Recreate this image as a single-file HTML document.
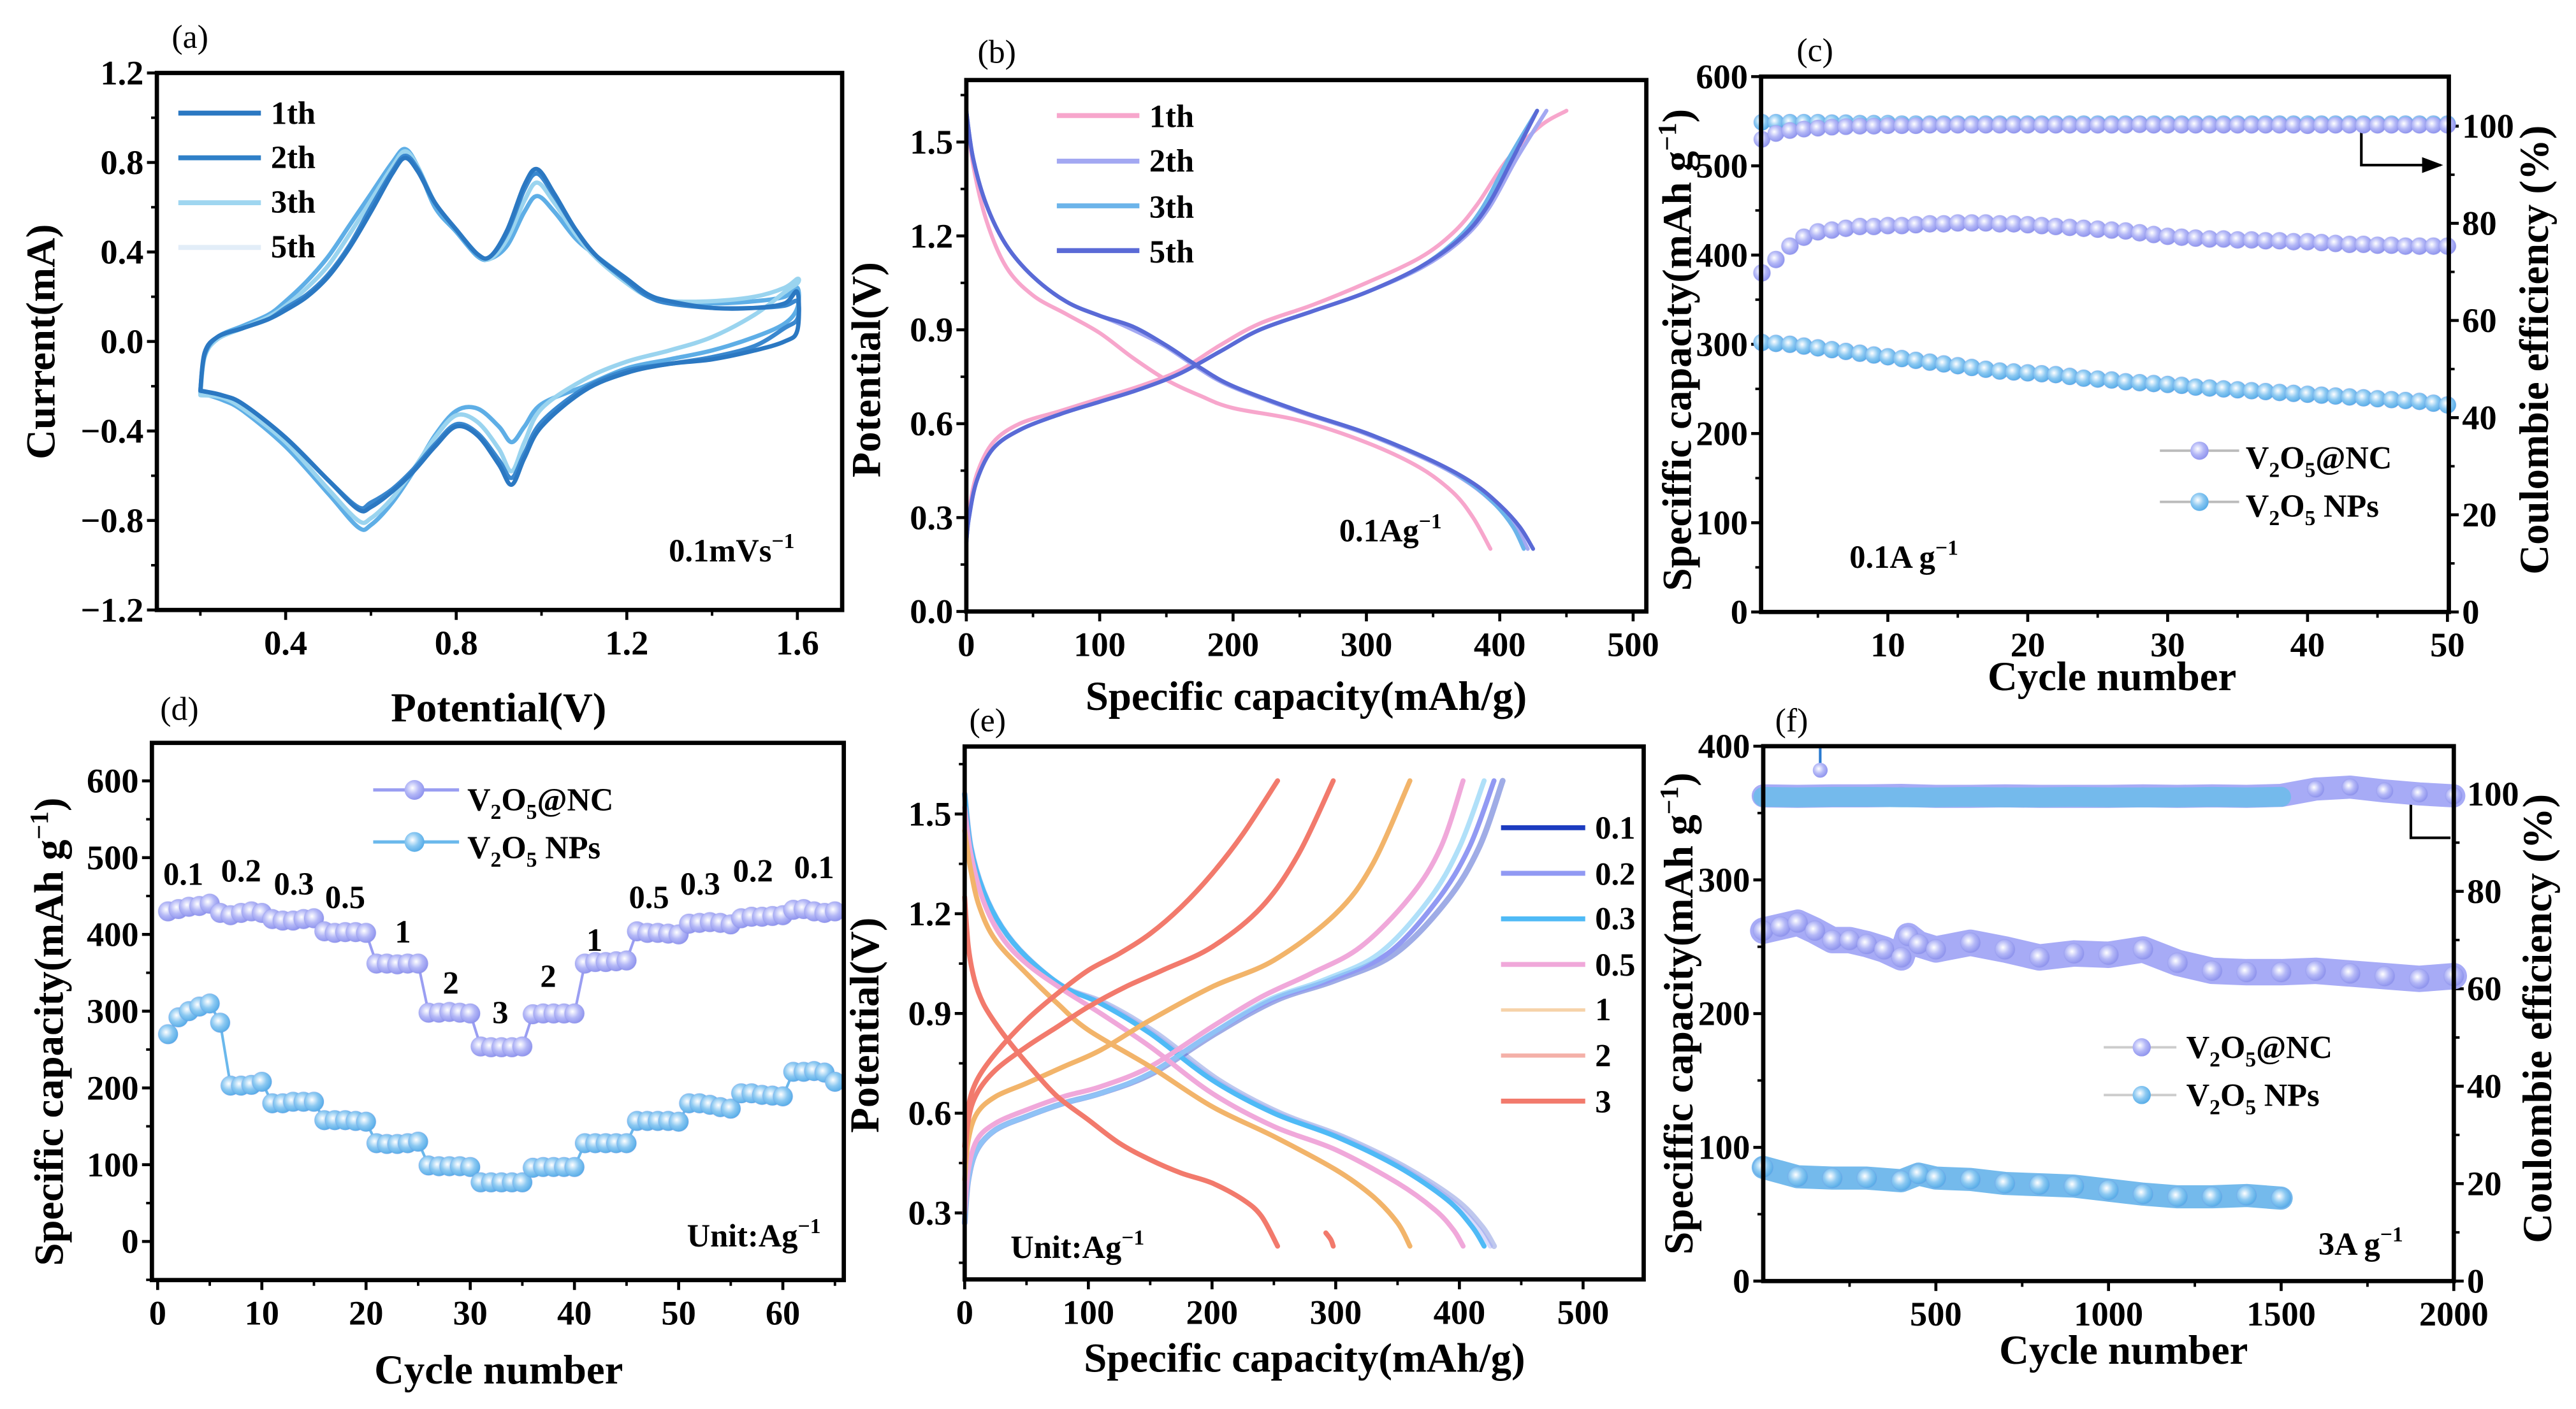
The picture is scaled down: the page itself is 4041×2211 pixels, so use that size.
<!DOCTYPE html>
<html><head><meta charset="utf-8"><style>
html,body{margin:0;padding:0;background:#fff;}
svg{display:block;}
text{font-family:"Liberation Serif",serif;}
.t{font-weight:bold;font-size:21px;}
.at{font-weight:bold;font-size:25px;}
.pl{font-size:20px;}
.lg{font-weight:bold;font-size:19.5px;}
</style></head><body>
<svg id="fig" xmlns="http://www.w3.org/2000/svg" width="4041" height="2211" viewBox="0 0 1560 853.5" preserveAspectRatio="none">
<defs>
<radialGradient id="gNC" cx="40%" cy="40%" r="60%"><stop offset="0" stop-color="#ffffff"/><stop offset="0.55" stop-color="#b4b8f7"/><stop offset="1" stop-color="#9196ee"/></radialGradient>
<radialGradient id="gNP" cx="40%" cy="40%" r="60%"><stop offset="0" stop-color="#ffffff"/><stop offset="0.55" stop-color="#8cc9f2"/><stop offset="1" stop-color="#5aaee8"/></radialGradient>
<marker id="arr" markerWidth="8" markerHeight="6" refX="7" refY="3" orient="auto"><path d="M0,0 L8,3 L0,6 z" fill="#000"/></marker>
</defs>
<rect x="0" y="0" width="1560" height="853.5" fill="#fff"/>

<text class="pl" x="104" y="29">(a)</text>
<text class="pl" x="592" y="38">(b)</text>
<text class="pl" x="1088" y="37">(c)</text>
<text class="pl" x="97" y="436">(d)</text>
<text class="pl" x="587" y="443">(e)</text>
<text class="pl" x="1075" y="443">(f)</text>

<text class="at" text-anchor="middle" transform="translate(33,207) rotate(-90)">Current(mA)</text>
<text class="at" text-anchor="middle" x="302" y="437">Potential(V)</text>
<text class="at" text-anchor="middle" transform="translate(533,224) rotate(-90)">Potential(V)</text>
<text class="at" text-anchor="middle" x="791" y="430">Specific capacity(mAh/g)</text>
<text class="at" text-anchor="middle" transform="translate(1024,212) rotate(-90)">Speciffic capacity(mAh g<tspan font-size="16" dy="-9">−1</tspan><tspan dy="9">)</tspan></text>
<text class="at" text-anchor="middle" transform="translate(1543,212) rotate(-90)">Coulombie efficiency (%)</text>
<text class="at" text-anchor="middle" x="1279" y="418">Cycle number</text>
<text class="at" text-anchor="middle" transform="translate(38,625) rotate(-90)">Specific capacity(mAh g<tspan font-size="16" dy="-9">−1</tspan><tspan dy="9">)</tspan></text>
<text class="at" text-anchor="middle" x="302" y="838">Cycle number</text>
<text class="at" text-anchor="middle" transform="translate(532,621) rotate(-90)">Potential(V)</text>
<text class="at" text-anchor="middle" x="790" y="831">Specific capacity(mAh/g)</text>
<text class="at" text-anchor="middle" transform="translate(1025,614) rotate(-90)">Speciffic capacity(mAh g<tspan font-size="16" dy="-9">−1</tspan><tspan dy="9">)</tspan></text>
<text class="at" text-anchor="middle" transform="translate(1545,617) rotate(-90)">Coulombie efficiency (%)</text>
<text class="at" text-anchor="middle" x="1286" y="826">Cycle number</text>

<text class="lg" x="405" y="340">0.1mVs<tspan font-size="13" dy="-8">−1</tspan></text>
<text class="lg" x="811" y="328">0.1Ag<tspan font-size="13" dy="-8">−1</tspan></text>
<text class="lg" x="1120" y="344">0.1A g<tspan font-size="13" dy="-8">−1</tspan></text>
<text class="lg" x="416" y="755">Unit:Ag<tspan font-size="13" dy="-8">−1</tspan></text>
<text class="lg" x="612" y="762">Unit:Ag<tspan font-size="13" dy="-8">−1</tspan></text>
<text class="lg" x="1404" y="760">3A g<tspan font-size="13" dy="-8">−1</tspan></text>

<g>
<line x1="108" y1="68.5" x2="158" y2="68.5" stroke="#2b78c2" stroke-width="3"/>
<text class="lg" x="164" y="75">1th</text>
<line x1="108" y1="95.6" x2="158" y2="95.6" stroke="#2f80c8" stroke-width="3"/>
<text class="lg" x="164" y="102">2th</text>
<line x1="108" y1="122.8" x2="158" y2="122.8" stroke="#9fd6f0" stroke-width="3"/>
<text class="lg" x="164" y="129">3th</text>
<line x1="108" y1="149.9" x2="158" y2="149.9" stroke="#e2edf8" stroke-width="3"/>
<text class="lg" x="164" y="156">5th</text>
</g>
<g>
<line x1="640" y1="70" x2="690" y2="70" stroke="#f7a6cc" stroke-width="3"/>
<text class="lg" x="696" y="77">1th</text>
<line x1="640" y1="97.6" x2="690" y2="97.6" stroke="#a3a8f2" stroke-width="3"/>
<text class="lg" x="696" y="104">2th</text>
<line x1="640" y1="124.7" x2="690" y2="124.7" stroke="#6cb4ea" stroke-width="3"/>
<text class="lg" x="696" y="132">3th</text>
<line x1="640" y1="151.8" x2="690" y2="151.8" stroke="#5a6ad6" stroke-width="3"/>
<text class="lg" x="696" y="159">5th</text>
</g>
<g>
<line x1="1308" y1="273" x2="1356" y2="273" stroke="#bbb" stroke-width="1.5"/>
<circle cx="1332" cy="273" r="5.5" fill="url(#gNC)"/>
<text class="lg" x="1360" y="284">V<tspan font-size="13" dy="5">2</tspan><tspan dy="-5">O</tspan><tspan font-size="13" dy="5">5</tspan><tspan dy="-5">@NC</tspan></text>
<line x1="1308" y1="304" x2="1356" y2="304" stroke="#bbb" stroke-width="1.5"/>
<circle cx="1332" cy="304" r="5.5" fill="url(#gNP)"/>
<text class="lg" x="1360" y="313">V<tspan font-size="13" dy="5">2</tspan><tspan dy="-5">O</tspan><tspan font-size="13" dy="5">5</tspan><tspan dy="-5"> NPs</tspan></text>
</g>
<g>
<line x1="226" y1="478.5" x2="278" y2="478.5" stroke="#9a9ef2" stroke-width="2"/>
<circle cx="251" cy="478.5" r="6" fill="url(#gNC)"/>
<text class="lg" x="283" y="491">V<tspan font-size="13" dy="5">2</tspan><tspan dy="-5">O</tspan><tspan font-size="13" dy="5">5</tspan><tspan dy="-5">@NC</tspan></text>
<line x1="226" y1="510" x2="278" y2="510" stroke="#6ab8ec" stroke-width="2"/>
<circle cx="251" cy="510" r="6" fill="url(#gNP)"/>
<text class="lg" x="283" y="520">V<tspan font-size="13" dy="5">2</tspan><tspan dy="-5">O</tspan><tspan font-size="13" dy="5">5</tspan><tspan dy="-5"> NPs</tspan></text>
</g>
<g>
<line x1="1274" y1="634.4" x2="1318" y2="634.4" stroke="#ccc" stroke-width="1.5"/>
<circle cx="1297" cy="634.4" r="5.5" fill="url(#gNC)"/>
<text class="lg" x="1324" y="641">V<tspan font-size="13" dy="5">2</tspan><tspan dy="-5">O</tspan><tspan font-size="13" dy="5">5</tspan><tspan dy="-5">@NC</tspan></text>
<line x1="1274" y1="663.3" x2="1318" y2="663.3" stroke="#ccc" stroke-width="1.5"/>
<circle cx="1297" cy="663.3" r="5.5" fill="url(#gNP)"/>
<text class="lg" x="1324" y="670">V<tspan font-size="13" dy="5">2</tspan><tspan dy="-5">O</tspan><tspan font-size="13" dy="5">5</tspan><tspan dy="-5"> NPs</tspan></text>
</g>
<g>
<line x1="909" y1="501.4" x2="960" y2="501.4" stroke="#1c3cc0" stroke-width="3"/>
<text class="lg" x="966" y="508">0.1</text>
<line x1="909" y1="529" x2="960" y2="529" stroke="#9199f3" stroke-width="3"/>
<text class="lg" x="966" y="536">0.2</text>
<line x1="909" y1="556.6" x2="960" y2="556.6" stroke="#4fbaf6" stroke-width="3"/>
<text class="lg" x="966" y="563">0.3</text>
<line x1="909" y1="584.2" x2="960" y2="584.2" stroke="#f0a8da" stroke-width="3"/>
<text class="lg" x="966" y="591">0.5</text>
<line x1="909" y1="611.8" x2="960" y2="611.8" stroke="#f6d2a8" stroke-width="2"/>
<text class="lg" x="966" y="618">1</text>
<line x1="909" y1="639.4" x2="960" y2="639.4" stroke="#f4b0a8" stroke-width="2.5"/>
<text class="lg" x="966" y="646">2</text>
<line x1="909" y1="667" x2="960" y2="667" stroke="#f27a6c" stroke-width="3"/>
<text class="lg" x="966" y="674">3</text>
</g>
<polyline points="1430,79 1430,100 1478,100" fill="none" stroke="#000" stroke-width="1.6" marker-end="url(#arr)"/>
<polyline points="1460,486 1460,507.5 1484,507.5" fill="none" stroke="#000" stroke-width="1.6"/>
</svg>
<script>
const cvV=[0.2,0.21,0.24,0.3,0.36,0.4,0.45,0.5,0.55,0.6,0.65,0.68,0.71,0.75,0.8,0.85,0.88,0.92,0.96,0.99,1.03,1.08,1.13,1.2,1.25,1.3,1.4,1.5,1.57,1.6,1.6,1.57,1.5,1.4,1.3,1.2,1.1,1.0,0.96,0.93,0.9,0.85,0.8,0.75,0.7,0.65,0.6,0.57,0.5,0.4,0.3,0.25,0.2];
const cvI1=[-0.22,-0.05,0.02,0.06,0.1,0.14,0.2,0.29,0.42,0.58,0.75,0.82,0.76,0.62,0.5,0.39,0.38,0.5,0.7,0.77,0.66,0.5,0.38,0.28,0.21,0.18,0.15,0.15,0.17,0.22,0.05,0.0,-0.04,-0.08,-0.1,-0.14,-0.22,-0.38,-0.52,-0.64,-0.55,-0.42,-0.38,-0.47,-0.58,-0.67,-0.74,-0.75,-0.62,-0.43,-0.28,-0.24,-0.22];
const cvI2=[-0.22,-0.06,0.02,0.06,0.1,0.15,0.21,0.3,0.43,0.6,0.76,0.83,0.77,0.62,0.5,0.39,0.38,0.49,0.68,0.75,0.65,0.5,0.38,0.27,0.2,0.17,0.15,0.15,0.16,0.18,0.1,0.06,-0.02,-0.07,-0.1,-0.13,-0.21,-0.36,-0.5,-0.61,-0.53,-0.41,-0.37,-0.46,-0.57,-0.66,-0.72,-0.74,-0.62,-0.43,-0.28,-0.24,-0.22];
const cvI3=[-0.24,-0.07,0.01,0.06,0.11,0.16,0.24,0.34,0.48,0.63,0.78,0.85,0.78,0.62,0.5,0.39,0.37,0.46,0.63,0.71,0.62,0.48,0.37,0.26,0.2,0.18,0.18,0.2,0.24,0.28,0.26,0.22,0.12,0.02,-0.04,-0.09,-0.17,-0.3,-0.45,-0.58,-0.48,-0.36,-0.33,-0.43,-0.57,-0.7,-0.79,-0.8,-0.66,-0.45,-0.3,-0.25,-0.24];
const cvI5=[-0.23,-0.06,0.02,0.07,0.12,0.18,0.27,0.38,0.52,0.66,0.8,0.86,0.78,0.6,0.49,0.38,0.37,0.43,0.58,0.65,0.58,0.46,0.38,0.28,0.21,0.18,0.17,0.18,0.2,0.24,0.15,0.08,0.02,-0.04,-0.08,-0.12,-0.2,-0.28,-0.38,-0.45,-0.38,-0.3,-0.31,-0.42,-0.58,-0.72,-0.82,-0.83,-0.68,-0.47,-0.31,-0.26,-0.23];
const bDisV=[1.6,1.45,1.3,1.17,1.07,0.99,0.945,0.91,0.85,0.78,0.72,0.64,0.57,0.48,0.41,0.34,0.27,0.2];
const bDis5=[0,5,15,30,50,75,100,125,150,175,200,250,300,350,380,400,415,425];
const bDis3=[0,5,15,30,50,75,100,125,150,175,200,250,300,350,378,397,410,418];
const bDis2=[0,5,15,30,50,75,100,120,148,173,198,248,298,348,377,397,412,421];
const bDis1V=[1.6,1.43,1.25,1.1,1.01,0.95,0.89,0.81,0.74,0.69,0.65,0.61,0.54,0.46,0.38,0.3,0.2];
const bDis1=[0,5,15,30,50,75,100,125,150,175,200,250,300,340,365,380,393];
const bChV=[0.22,0.3,0.42,0.52,0.58,0.63,0.67,0.71,0.76,0.83,0.9,0.96,1.02,1.1,1.19,1.29,1.45,1.6];
const bCh5=[0,2,8,20,40,70,100,130,160,190,220,260,300,340,370,390,410,428];
const bCh3=[0,2,8,20,40,70,100,130,160,190,220,260,300,340,368,387,407,428];
const bCh2=[0,2,8,20,40,70,100,130,160,190,220,260,300,342,372,392,413,435];
const bCh1V=[0.22,0.32,0.44,0.54,0.6,0.64,0.68,0.72,0.77,0.85,0.92,0.98,1.05,1.13,1.21,1.3,1.44,1.55,1.6];
const bCh1=[0,2,8,20,40,70,100,130,160,190,220,260,300,340,365,383,405,430,450];
const cCycles=[1,2,3,4,5,6,7,8,9,10,11,12,13,14,15,16,17,18,19,20,21,22,23,24,25,26,27,28,29,30,31,32,33,34,35,36,37,38,39,40,41,42,43,44,45,46,47,48,49,50];
const cNC=[380,395,410,420,426,428,430,432,432,433,433,434,435,435,436,436,436,435,435,434,433,432,431,430,429,428,427,425,423,421,420,419,418,418,417,417,416,416,415,415,414,413,412,412,411,411,410,410,410,410];
const cNP=[302,301,300,298,296,294,292,290,288,286,284,282,280,278,276,274,272,270,269,268,267,266,264,262,261,260,258,257,256,255,254,252,251,250,249,248,247,246,245,244,243,242,241,240,239,238,237,236,234,232];
const cNCce=[97.3,98.5,99.1,99.4,99.6,99.8,99.9,100,100,100.1,100.1,100.1,100.2,100.2,100.2,100.2,100.2,100.2,100.2,100.2,100.2,100.2,100.2,100.2,100.2,100.2,100.2,100.3,100.2,100.2,100.2,100.2,100.2,100.2,100.2,100.2,100.2,100.2,100.2,100.1,100.2,100.2,100.2,100.2,100.2,100.2,100.2,100.2,100.2,100.2];
const cNPce=[100.8,100.8,100.8,100.8,100.8,100.7,100.7,100.6,100.6,100.6,100.5,100.5,100.5,100.5,100.5,100.5,100.5,100.5,100.5,100.5,100.5,100.5,100.5,100.5,100.5,100.5,100.5,100.5,100.5,100.5,100.5,100.5,100.5,100.5,100.5,100.5,100.5,100.5,100.5,100.5,100.5,100.5,100.5,100.5,100.5,100.5,100.5,100.5,100.5,100.5];
const dNC=[430,433,436,437,440,428,425,428,430,428,420,418,418,420,421,404,402,403,403,402,362,362,361,362,362,298,298,299,298,297,254,253,253,253,254,296,297,297,297,297,362,364,364,365,366,404,402,402,401,400,414,415,416,415,413,421,423,423,424,425,432,433,430,428,430];
const dNP=[270,292,300,306,310,285,203,203,204,208,180,180,182,182,182,158,158,158,157,156,128,127,127,128,130,99,98,98,98,97,77,77,77,77,77,96,97,97,97,97,128,128,128,128,128,157,157,157,157,156,180,180,178,175,173,193,193,191,190,189,221,221,222,220,208];
const dRates=["0.1","0.2","0.3","0.5","1","2","3","2","1","0.5","0.3","0.2","0.1"];
const eDis3C=[0,3,8,15,25,37,55,75,100,125,150,175,200,225,240,253], eDis3V=[1.25,1.1,1.0,0.93,0.87,0.81,0.73,0.65,0.58,0.51,0.46,0.42,0.39,0.34,0.29,0.2];
const eDis2C=[292,296,298], eDis2V=[0.24,0.22,0.2];
const eDis1C=[0,5,12,25,50,75,100,150,200,250,300,330,350,360], eDis1V=[1.45,1.33,1.22,1.12,1.02,0.93,0.85,0.74,0.62,0.53,0.43,0.35,0.27,0.2];
const eDis05C=[0,5,15,30,50,80,110,150,200,250,300,350,380,395,403], eDis05V=[1.52,1.38,1.24,1.13,1.05,0.97,0.9,0.8,0.66,0.56,0.49,0.39,0.31,0.25,0.2];
const eDisV=[1.56,1.4,1.27,1.16,1.07,0.98,0.93,0.84,0.7,0.6,0.53,0.44,0.34,0.26,0.2];
const eDis03C=[0,5,15,30,50,80,110,150,200,250,300,350,390,410,420];
const eDis02C=[0,5,15,30,50,80,112,152,202,252,302,352,393,414,425];
const eDis01C=[0,5,15,30,50,80,114,155,205,255,305,355,397,418,428];
const eCh3C=[0,3,10,25,50,75,100,125,150,175,200,225,253], eCh3V=[0.5,0.62,0.7,0.78,0.88,0.96,1.03,1.08,1.14,1.22,1.32,1.44,1.6];
const eCh2C=[0,3,10,25,50,75,100,130,160,200,240,270,298], eCh2V=[0.45,0.58,0.66,0.73,0.8,0.86,0.92,0.98,1.03,1.1,1.22,1.38,1.6];
const eCh1C=[0,3,10,25,50,80,110,150,200,250,300,330,360], eCh1V=[0.4,0.52,0.6,0.65,0.69,0.74,0.79,0.88,0.98,1.06,1.2,1.35,1.6];
const eCh05C=[0,3,10,25,50,80,110,150,200,240,280,320,360,385,403], eCh05V=[0.3,0.43,0.52,0.57,0.61,0.65,0.68,0.74,0.86,0.95,1.02,1.1,1.25,1.4,1.6];
const eChV=[0.27,0.4,0.49,0.55,0.59,0.63,0.66,0.72,0.84,0.94,1.0,1.08,1.24,1.4,1.6];
const eCh03C=[0,3,10,25,50,80,110,150,200,245,290,335,375,400,420];
const eCh02C=[0,3,10,25,50,80,110,150,200,248,295,342,382,408,428];
const eCh01C=[0,3,10,25,50,80,110,152,203,252,300,348,390,416,435];
const fNCc=[0,50,100,150,200,250,300,350,400,420,450,500,600,700,800,900,1000,1100,1200,1300,1400,1500,1600,1700,1800,1900,2000];
const fNC=[262,265,268,262,255,255,252,248,242,258,252,248,253,248,242,245,244,248,238,232,231,231,232,230,228,226,228];
const fNPc=[0,100,200,300,400,450,500,600,700,800,900,1000,1100,1200,1300,1400,1500];
const fNP=[85,78,77,77,75,80,77,76,73,72,71,68,65,63,63,64,62];
const fCEc=[0,100,200,300,400,500,600,700,800,900,1000,1100,1200,1300,1400,1500,1600,1700,1800,1900,2000];
const fNCce=[99.6,99.5,99.6,99.6,99.7,99.5,99.5,99.6,99.5,99.5,99.5,99.6,99.5,99.6,99.5,99.7,101.0,101.4,100.6,100.0,99.6];
const fNPce=[99.4,99.3,99.4,99.4,99.3,99.3,99.4,99.3,99.3,99.4,99.3,99.3,99.3,99.4,99.3,99.4];

const NS="http://www.w3.org/2000/svg";
const svg=document.getElementById('fig');
function mk(tag,attrs,parent){const e=document.createElementNS(NS,tag);for(const k in attrs)e.setAttribute(k,attrs[k]);(parent||svg).appendChild(e);return e;}
function lin(d0,d1,r0,r1){return v=>r0+(v-d0)*(r1-r0)/(d1-d0);}
function smooth(p){if(p.length<3){return 'M'+p.map(q=>q[0].toFixed(2)+','+q[1].toFixed(2)).join(' L');}
 let d='M'+p[0][0].toFixed(2)+','+p[0][1].toFixed(2);
 for(let i=0;i<p.length-1;i++){const p0=p[i-1]||p[i],p1=p[i],p2=p[i+1],p3=p[i+2]||p2;
  const c1=[p1[0]+(p2[0]-p0[0])/6,p1[1]+(p2[1]-p0[1])/6],c2=[p2[0]-(p3[0]-p1[0])/6,p2[1]-(p3[1]-p1[1])/6];
  d+=' C'+c1[0].toFixed(2)+','+c1[1].toFixed(2)+' '+c2[0].toFixed(2)+','+c2[1].toFixed(2)+' '+p2[0].toFixed(2)+','+p2[1].toFixed(2);}
 return d;}
function fmt(v,dec){return (v<0?'−':'')+Math.abs(v).toFixed(dec);}

function axes(P){
 const g=mk('g',{});
 
 
 const X=lin(P.xd[0],P.xd[1],P.x0,P.x1), Y=lin(P.yd[0],P.yd[1],P.y0,P.y1);
 P.xt.forEach(v=>{const x=X(v);
  const t=mk('line',{x1:x,y1:P.y0,x2:x,y2:P.y0+6,stroke:'#000','stroke-width':1.8},g);
  
  
  const l=mk('text',{x:x,y:P.y0+27,'text-anchor':'middle',class:'t'},g);
  l.textContent=fmt(v,P.xdec);
  
  });
 P.xm.forEach(v=>{const x=X(v);
  const t=mk('line',{x1:x,y1:P.y0,x2:x,y2:P.y0+3.5,stroke:'#000','stroke-width':1.5},g);
  
  });
 P.yt.forEach(v=>{const y=Y(v);
  const t=mk('line',{x1:P.x0-6,y1:y,x2:P.x0,y2:y,stroke:'#000','stroke-width':1.8},g);
  
  
  const l=mk('text',{x:P.x0-8,y:y+7,'text-anchor':'end',class:'t'},g);
  l.textContent=fmt(v,P.ydec);
  
  });
 P.ym.forEach(v=>{const y=Y(v);
  const t=mk('line',{x1:P.x0-3.5,y1:y,x2:P.x0,y2:y,stroke:'#000','stroke-width':1.5},g);
  
  });
 let RY=null;
 if(P.ry){RY=lin(P.ry.d[0],P.ry.d[1],P.y0,P.y1);
  P.ry.t.forEach(v=>{const y=RY(v);
   const t=mk('line',{x1:P.x1,y1:y,x2:P.x1+6,y2:y,stroke:'#000','stroke-width':1.8},g);
   
   
   const l=mk('text',{x:P.x1+8,y:y+7,'text-anchor':'start',class:'t'},g);
   l.textContent=fmt(v,0);
   
   });
  P.ry.m.forEach(v=>{const y=RY(v);
   const t=mk('line',{x1:P.x1,y1:y,x2:P.x1+3.5,y2:y,stroke:'#000','stroke-width':1.5},g);
   
   });}
 const plot=mk('g',{});
 
 
 const fr=mk('rect',{x:P.x0,y:P.y1,width:P.x1-P.x0,height:P.y0-P.y1,fill:'none',stroke:'#000','stroke-width':2.6});
 
 
 svg.insertBefore(plot,fr);
 return {X,Y,RY,plot};}

function curve(A,xs,ys,color,w,name,op){
 const p=mk('path',{d:smooth(xs.map((v,i)=>[A.X(v),A.Y(ys[i])])),fill:'none',stroke:color,'stroke-width':w,'stroke-linecap':'round','stroke-linejoin':'round',opacity:op||1},A.plot);
 
 }
function dots(A,xs,ys,fill,r,name,useRY){
 const Yf=useRY?A.RY:A.Y;
 xs.forEach((v,i)=>{const c=mk('circle',{cx:A.X(v),cy:Yf(ys[i]),r:r,fill:fill,stroke:'rgba(120,130,220,0.15)','stroke-width':0.6},A.plot);
  
  });}
function band(A,xs,ys,color,w,name,useRY){
 const Yf=useRY?A.RY:A.Y;
 const p=mk('polyline',{points:xs.map((v,i)=>A.X(v).toFixed(2)+','+Yf(ys[i]).toFixed(2)).join(' '),fill:'none',stroke:color,'stroke-width':w,'stroke-linecap':'round','stroke-linejoin':'round'},A.plot);
 
 }

const A=axes({name:'a',x0:95,x1:510,y0:369.5,y1:44.2,xd:[0.098,1.705],yd:[-1.2,1.2],xt:[0.4,0.8,1.2,1.6],xm:[0.2,0.6,1.0,1.4],yt:[-1.2,-0.8,-0.4,0,0.4,0.8,1.2],ym:[-1.0,-0.6,-0.2,0.2,0.6,1.0],xdec:1,ydec:1});
curve(A,cvV,cvI5,'#5eaee6',2.6,'cv-cycle-5');
curve(A,cvV,cvI3,'#9ad4ef',2.6,'cv-cycle-3');
curve(A,cvV,cvI2,'#3a88cf',2.6,'cv-cycle-2');
curve(A,cvV,cvI1,'#2b78c2',2.6,'cv-cycle-1');

const B=axes({name:'b',x0:585.2,x1:997,y0:370.4,y1:48.5,xd:[0,509.9],yd:[0,1.698],xt:[0,100,200,300,400,500],xm:[50,150,250,350,450],yt:[0,0.3,0.6,0.9,1.2,1.5],ym:[0.15,0.45,0.75,1.05,1.35,1.65],xdec:0,ydec:1});
curve(B,bDis1,bDis1V,'#f7a6cc',2.4,'b-discharge-1th');
curve(B,bCh1,bCh1V,'#f7a6cc',2.4,'b-charge-1th');
curve(B,bDis2,bDisV,'#a3a8f2',2.4,'b-discharge-2th');
curve(B,bCh2,bChV,'#a3a8f2',2.4,'b-charge-2th');
curve(B,bDis3,bDisV,'#6cb4ea',2.4,'b-discharge-3th');
curve(B,bCh3,bChV,'#6cb4ea',2.4,'b-charge-3th');
curve(B,bDis5,bDisV,'#5a6ad6',2.4,'b-discharge-5th');
curve(B,bCh5,bChV,'#5a6ad6',2.4,'b-charge-5th');

const C=axes({name:'c',x0:1066.5,x1:1483,y0:370.7,y1:46.4,xd:[0.94,50.1],yd:[0,600],xt:[10,20,30,40,50],xm:[5,15,25,35,45],yt:[0,100,200,300,400,500,600],ym:[50,150,250,350,450,550],xdec:0,ydec:0,ry:{d:[0,110.2],t:[0,20,40,60,80,100],m:[10,30,50,70,90]}});
dots(C,cCycles,cNPce,'url(#gNP)',5,'c-np-ce-point',true);
dots(C,cCycles,cNCce,'url(#gNC)',5,'c-nc-ce-point',true);
dots(C,cCycles,cNC,'url(#gNC)',5.2,'c-nc-capacity-point');
dots(C,cCycles,cNP,'url(#gNP)',5.2,'c-np-capacity-point');

const D=axes({name:'d',x0:92,x1:511,y0:775.4,y1:450,xd:[-0.55,65.85],yd:[-50.3,649.5],xt:[0,10,20,30,40,50,60],xm:[5,15,25,35,45,55,65],yt:[0,100,200,300,400,500,600],ym:[-50,50,150,250,350,450,550],xdec:0,ydec:0});
const dCycles=dNC.map((v,i)=>i+1);
band(D,dCycles,dNC,'#9a9ef2',1.6,'d-nc-line');
band(D,dCycles,dNP,'#6ab8ec',1.6,'d-np-line');
dots(D,dCycles,dNC,'url(#gNC)',6,'d-nc-point');
dots(D,dCycles,dNP,'url(#gNP)',6,'d-np-point');
const dLabelPos=[[111,536],[146,534],[178,542],[209,550],[244,571],[273,602],[303,620],[332,598],[360,576],[393,550],[424,542],[456,534],[493,532]];
dRates.forEach((r,i)=>{const t=mk('text',{x:dLabelPos[i][0],y:dLabelPos[i][1],'text-anchor':'middle',class:'lg'});
 t.textContent=r;
 
 });

const E=axes({name:'e',x0:584.2,x1:995.4,y0:775,y1:452.2,xd:[0,549],yd:[0.1,1.703],xt:[0,100,200,300,400,500],xm:[50,150,250,350,450],yt:[0.3,0.6,0.9,1.2,1.5],ym:[0.15,0.45,0.75,1.05,1.35,1.65],xdec:0,ydec:1});
curve(E,eDis01C,eDisV,'#2a48c8',3.5,'e-discharge-0.1',0.3);
curve(E,eCh01C,eChV,'#2a48c8',3.5,'e-charge-0.1',0.45);
curve(E,eDis02C,eDisV,'#9199f3',3,'e-discharge-0.2',0.35);
curve(E,eCh02C,eChV,'#9199f3',3,'e-charge-0.2');
curve(E,eDis03C,eDisV,'#4fbaf6',3,'e-discharge-0.3');
curve(E,eCh03C,eChV,'#8fd3f6',3,'e-charge-0.3',0.7);
curve(E,eDis05C,eDis05V,'#f0a8da',3,'e-discharge-0.5');
curve(E,eCh05C,eCh05V,'#f0a8da',3,'e-charge-0.5');
curve(E,eDis1C,eDis1V,'#f2b46a',3,'e-discharge-1');
curve(E,eCh1C,eCh1V,'#f2b46a',3,'e-charge-1');
curve(E,eDis2C,eDis2V,'#f27a6c',3,'e-discharge-2');
curve(E,eCh2C,eCh2V,'#f27a6c',3,'e-charge-2');
curve(E,eDis3C,eDis3V,'#f27a6c',3,'e-discharge-3');
curve(E,eCh3C,eCh3V,'#f27a6c',3,'e-charge-3');

const F=axes({name:'f',x0:1067.8,x1:1486,y0:776,y1:452,xd:[0,2000],yd:[0,400],xt:[500,1000,1500,2000],xm:[250,750,1250,1750],yt:[0,100,200,300,400],ym:[50,150,250,350],xdec:0,ydec:0,ry:{d:[0,109.8],t:[0,20,40,60,80,100],m:[10,30,50,70,90]}});
const spike=mk('line',{x1:F.X(165),y1:452,x2:F.X(165),y2:F.Y(382),stroke:'#2a7bd0','stroke-width':1.6},F.plot);


band(F,fCEc,fNCce,'#a7abf6',14,'f-nc-ce-band',true);
dots(F,fCEc,fNCce,'url(#gNC)',5,'f-nc-ce-point',true);
band(F,fCEc.slice(0,fNPce.length),fNPce,'#74baec',12,'f-np-ce-band',true);
band(F,fNCc,fNC,'#a7abf6',16,'f-nc-capacity-band');
dots(F,fNCc,fNC,'url(#gNC)',6,'f-nc-capacity-point');
band(F,fNPc,fNP,'#74baec',14,'f-np-capacity-band');
dots(F,fNPc,fNP,'url(#gNP)',6,'f-np-capacity-point');
const sp=mk('circle',{cx:F.X(165),cy:F.Y(382),r:4.5,fill:'url(#gNC)'},F.plot);


</script>
</body></html>
